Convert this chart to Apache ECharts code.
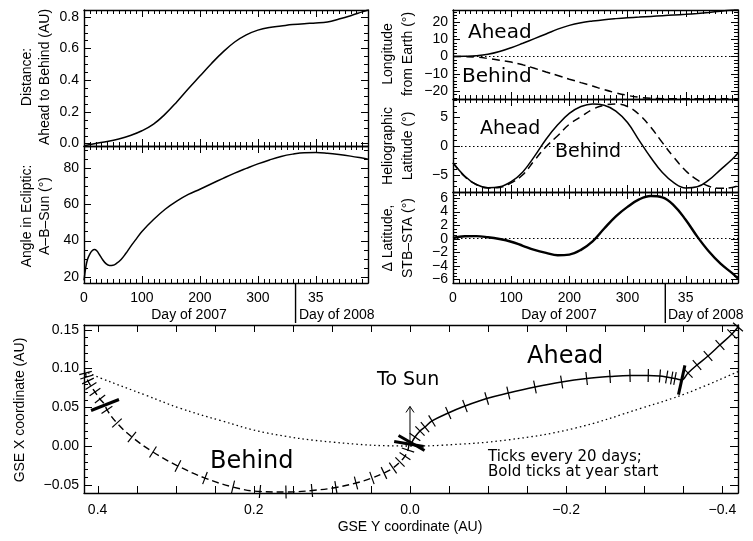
<!DOCTYPE html>
<html>
<head>
<meta charset="utf-8">
<script src="https://cdn.jsdelivr.net/npm/echarts@6/dist/echarts.min.js"></script>
<style>
  html, body { margin: 0; padding: 0; background: #fff; }
  #main { width: 753px; height: 541px; }
</style>
</head>
<body>
<div id="main"></div>
<script>
// ---- data ----
// day count from 1 Jan 2007 (365 = 1 Jan 2008)
const days = [0, 20, 40, 60, 80, 100, 120, 140, 160, 180, 200, 220, 240, 260, 280, 300, 320, 340, 360, 380, 400, 420, 440, 460, 480, 490];

// separation Ahead-Behind (AU)
const distance = [-0.014, 0.000, 0.012, 0.028, 0.050, 0.080, 0.122, 0.185, 0.262, 0.345, 0.425, 0.505, 0.578, 0.640, 0.685, 0.715, 0.732, 0.741, 0.750, 0.756, 0.760, 0.767, 0.785, 0.806, 0.830, 0.842];

// angle A-B-Sun in ecliptic (deg), denser at the start
const angleDays = [0, 3, 6, 10, 14, 18, 22, 27, 32, 38, 44, 50, 56, 64, 72, 80, 90, 100, 120, 140, 160, 180, 200, 220, 240, 260, 280, 300, 320, 340, 360, 380, 400, 420, 440, 460, 480, 490];
const angle = [18, 25, 29.5, 32.5, 34.3, 35, 34.3, 32, 29.5, 27.2, 26.2, 26.3, 27.3, 29.5, 32.8, 36.5, 40.8, 45, 51.6, 57.3, 61.8, 65.5, 68.4, 71.4, 74.4, 77.3, 79.9, 82.4, 84.6, 86.5, 87.8, 88.6, 88.7, 88.3, 87.6, 86.7, 85.6, 85];

// longitude from Earth (deg)
const lonAhead = [0, 0.1, 0.4, 1.2, 2.8, 5.0, 7.6, 10.3, 13.0, 15.8, 18.0, 19.5, 20.5, 21.3, 21.9, 22.4, 22.8, 23.2, 23.6, 24.0, 24.4, 24.9, 25.5, 26.2, 26.9, 27.3];
const lonBehind = [0, -0.1, -0.4, -1.2, -2.2, -3.3, -4.9, -6.9, -9.0, -11.1, -13.2, -15.2, -17.2, -19.3, -21.1, -22.6, -23.7, -24.3, -24.5, -24.6, -24.6, -24.6, -24.6, -24.6, -24.6, -24.6];

// heliographic latitude (deg)
const latAhead = [-2.9, -5.2, -6.7, -7.25, -7.1, -6.2, -4.5, -1.8, 1.2, 3.7, 5.7, 6.9, 7.35, 7.1, 6.1, 4.1, 1.0, -2.0, -4.6, -6.4, -7.3, -7.1, -5.9, -4.1, -2.3, -1.2];
const latBehind = [-2.9, -5.3, -6.7, -7.3, -7.2, -6.4, -5.0, -2.5, -0.1, 1.8, 3.8, 5.1, 6.4, 7.1, 7.35, 6.9, 5.5, 3.3, 0.6, -2.0, -4.3, -5.9, -7.0, -7.35, -7.2, -6.9];

// latitude difference STB-STA (deg)
const dLat = [0.1, 0.35, 0.38, 0.22, -0.05, -0.45, -1.05, -1.65, -2.1, -2.45, -2.35, -1.65, -0.4, 1.5, 3.3, 4.7, 5.8, 6.3, 6.1, 4.9, 2.8, 0.3, -1.9, -3.7, -5.1, -5.9];

// GSE track, one point per 20 days plus the year start
const orbitDays = [0, 20, 40, 60, 80, 100, 120, 140, 160, 180, 200, 220, 240, 260, 280, 300, 320, 340, 360, 365, 380, 400, 420, 440, 460, 480];
const aheadGseY = [-0.002, -0.0064, -0.0128, -0.0192, -0.0282, -0.049, -0.0704, -0.0982, -0.1259, -0.160, -0.1942, -0.2262, -0.2561, -0.2817, -0.3051, -0.320, -0.3287, -0.3351, -0.3393, -0.3479, -0.356, -0.3675, -0.3816, -0.3969, -0.4123, -0.420];
const aheadGseX = [0.0039, 0.0116, 0.0194, 0.0245, 0.0323, 0.0426, 0.0516, 0.0613, 0.0684, 0.0761, 0.0826, 0.0871, 0.0897, 0.0910, 0.0910, 0.0903, 0.0890, 0.0877, 0.0871, 0.0852, 0.0942, 0.1045, 0.1161, 0.1303, 0.1445, 0.1535];
const behindGseY = [0.0013, 0.0026, 0.0064, 0.0128, 0.0218, 0.0333, 0.0487, 0.0691, 0.0948, 0.1255, 0.1588, 0.1921, 0.2266, 0.2625, 0.2971, 0.3291, 0.3560, 0.3752, 0.3880, 0.3905, 0.3969, 0.4033, 0.4085, 0.4123, 0.4142, 0.4155];
const behindGseX = [0.0026, -0.0052, -0.0129, -0.0206, -0.0284, -0.0348, -0.0413, -0.0477, -0.0535, -0.0574, -0.0594, -0.0587, -0.0529, -0.0413, -0.0258, -0.0077, 0.0116, 0.0297, 0.0465, 0.0529, 0.0606, 0.0697, 0.0774, 0.0839, 0.0890, 0.0942];

// dotted reference curve
const earthGseY = [0.4174, 0.397, 0.337, 0.295, 0.243, 0.184, 0.099, 0.0, -0.041, -0.126, -0.211, -0.297, -0.354, -0.42];
const earthGseX = [0.097, 0.088, 0.065, 0.049, 0.033, 0.017, 0.005, 0.0, 0.001, 0.008, 0.023, 0.049, 0.068, 0.096];

// "To Sun" arrow: from, to (GSE Y, GSE X)
const sunArrow = [[0, 0.004, 0, 0.051]];
// year boundary marker under the day axes
const yearStart = 365;

// ---- helpers ----
const AXIS_FONT = 'Liberation Sans';
const NOTE_FONT = 'DejaVu Sans';

const zip = (xs, ys) => xs.map((x, i) => [x, ys[i]]);
const minus = s => s.replace('-', '\u2212');
const isMultiple = (v, step) => Math.abs(v / step - Math.round(v / step)) < 1e-6;

function labelFmt(step, fn) {
  return v => (isMultiple(v, step) ? fn(Math.abs(v) < 1e-9 ? 0 : v) : '');
}

// axes give the frame and labels; the inward IDL-style ticks are added below
function axis(gi, pos, s, showLabel) {
  return {
    type: 'value', gridIndex: gi, position: pos,
    min: s.min, max: s.max, inverse: !!s.inverse,
    minInterval: s.step, maxInterval: s.step,
    axisLine: { show: true, onZero: false, lineStyle: { color: '#000', width: 1.4 } },
    axisTick: { show: false },
    minorTick: { show: false },
    splitLine: { show: false },
    minorSplitLine: { show: false },
    axisLabel: {
      show: showLabel, color: '#000', fontFamily: AXIS_FONT, fontSize: 14,
      margin: s.margin || 5, formatter: labelFmt(s.labelStep || s.step, s.fmt)
    }
  };
}

const grids = [
  { left: 84, top: 10, width: 284, height: 136 },
  { left: 84, top: 146, width: 284, height: 137 },
  { left: 453, top: 10, width: 285, height: 89 },
  { left: 453, top: 99, width: 285, height: 93 },
  { left: 453, top: 192, width: 285, height: 91 },
  { left: 84, top: 325, width: 654, height: 168 }
];

const daySpec = { min: 0, max: 490, step: 100, minor: 10, margin: 8,
  fmt: v => String(v >= 365 ? v - 365 : v) };
const gseYSpec = { min: -0.42, max: 0.4174, step: 0.05, labelStep: 0.2, inverse: true, margin: 10,
  fmt: v => minus(v.toFixed(1)) };

const ySpecs = [
  { min: -0.016, max: 0.842, step: 0.2, minor: 4, fmt: v => v.toFixed(1) },
  { min: 16.5, max: 92.3, step: 20, minor: 4, fmt: v => String(v) },
  { min: -24.7, max: 26.9, step: 10, minor: 5, fmt: v => minus(String(v)) },
  { min: -8, max: 8.2, step: 5, minor: 5, fmt: v => minus(String(v)) },
  { min: -6.55, max: 6.9, step: 2, minor: 4, fmt: v => minus(String(v)) },
  { min: -0.0606, max: 0.1561, step: 0.05, minor: 5, tick: 8, fmt: v => minus(v.toFixed(2)) }
];
const xLabelOn = [false, true, false, false, true, true];

const xAxes = [], yAxes = [];
grids.forEach((g, gi) => {
  const xs = gi === 5 ? gseYSpec : daySpec;
  xAxes.push(axis(gi, 'bottom', xs, xLabelOn[gi]));
  xAxes.push(axis(gi, 'top', xs, false));
  yAxes.push(axis(gi, 'left', ySpecs[gi], true));
  yAxes.push(axis(gi, 'right', ySpecs[gi], false));
});

function tickValues(min, max, step) {
  const out = [];
  const k0 = Math.ceil(min / step - 1e-9), k1 = Math.floor(max / step + 1e-9);
  for (let k = k0; k <= k1; k++) out.push(+(k * step).toFixed(10));
  return out;
}
// [value, length] for every major and minor tick of an axis spec
function tickList(s) {
  const out = tickValues(s.min, s.max, s.step).map(v => [v, s.tick || 7]);
  if (s.minor) {
    tickValues(s.min, s.max, s.step / s.minor).forEach(v => {
      if (!isMultiple(v, s.step)) out.push([v, 4]);
    });
  }
  return out;
}

function line(gi, data, width, dash) {
  return {
    type: 'line', xAxisIndex: 2 * gi, yAxisIndex: 2 * gi, data: data,
    showSymbol: false, symbol: 'none', smooth: 0.4, clip: true,
    lineStyle: { color: '#000', width: width, type: dash || 'solid' }
  };
}
const zeroLine = {
  silent: true, symbol: 'none', label: { show: false },
  lineStyle: { color: '#000', width: 1.2, type: [1.5, 2.5] },
  data: [{ yAxis: 0 }]
};

// perpendicular tick marks along the GSE tracks
function tickData(xs, ys, ds) {
  return ds.map((d, i) => {
    const bold = d % 365 === 0;
    let a = i > 0 ? i - 1 : i;
    let b = i < ds.length - 1 ? i + 1 : i;
    if (bold && d > 0) b = i;
    if (bold && d === 0) a = i;
    return [xs[i], ys[i], xs[a], ys[a], xs[b], ys[b], bold ? 1 : 0];
  });
}
function renderTick(params, api) {
  const p = api.coord([api.value(0), api.value(1)]);
  const a = api.coord([api.value(2), api.value(3)]);
  const b = api.coord([api.value(4), api.value(5)]);
  const bold = api.value(6) === 1;
  const dx = b[0] - a[0], dy = b[1] - a[1];
  const len = Math.hypot(dx, dy) || 1;
  const h = bold ? 15 : 6.5;
  const nx = -dy / len * h, ny = dx / len * h;
  return {
    type: 'line',
    shape: { x1: p[0] - nx, y1: p[1] - ny, x2: p[0] + nx, y2: p[1] + ny },
    style: { stroke: '#000', lineWidth: bold ? 3 : 1.2 }
  };
}
function renderArrow(params, api) {
  const a = api.coord([api.value(0), api.value(1)]);
  const b = api.coord([api.value(2), api.value(3)]);
  return {
    type: 'group',
    children: [
      { type: 'line', shape: { x1: a[0], y1: a[1], x2: b[0], y2: b[1] }, style: { stroke: '#000', lineWidth: 1 } },
      { type: 'polyline', shape: { points: [[b[0] - 4, b[1] + 6], [b[0], b[1]], [b[0] + 4, b[1] + 6]] },
        style: { stroke: '#000', fill: null, lineWidth: 1 } }
    ]
  };
}
// vertical year separator hanging below a panel's day axis
function renderYearLine(params, api) {
  const p = api.coord([api.value(0), api.value(1)]);
  return {
    type: 'line', shape: { x1: p[0], y1: p[1], x2: p[0], y2: p[1] + 40 },
    style: { stroke: '#000', lineWidth: 1.4 }
  };
}

const series = [
  line(0, zip(days, distance), 1.5),
  line(1, zip(angleDays, angle), 1.5),
  Object.assign(line(2, zip(days, lonAhead), 1.5), { markLine: zeroLine }),
  line(2, zip(days, lonBehind), 1.5, [8, 5]),
  Object.assign(line(3, zip(days, latAhead), 1.5), { markLine: zeroLine }),
  line(3, zip(days, latBehind), 1.5, [8, 5]),
  Object.assign(line(4, zip(days, dLat), 2.4), { markLine: zeroLine }),
  line(5, zip(earthGseY, earthGseX), 1.3, [1.5, 3]),
  line(5, zip(aheadGseY, aheadGseX), 1.5),
  line(5, zip(behindGseY, behindGseX), 1.4, [7, 4]),
  { type: 'custom', xAxisIndex: 10, yAxisIndex: 10, renderItem: renderTick,
    data: tickData(aheadGseY, aheadGseX, orbitDays) },
  { type: 'custom', xAxisIndex: 10, yAxisIndex: 10, renderItem: renderTick,
    data: tickData(behindGseY, behindGseX, orbitDays) },
  { type: 'custom', xAxisIndex: 10, yAxisIndex: 10, renderItem: renderArrow, data: sunArrow },
  { type: 'custom', xAxisIndex: 2, yAxisIndex: 2, renderItem: renderYearLine, data: [[yearStart, ySpecs[1].min]] },
  { type: 'custom', xAxisIndex: 8, yAxisIndex: 8, renderItem: renderYearLine, data: [[yearStart, ySpecs[4].min]] }
];

// ---- text ----
function txt(x, y, s, size, font, align, rot) {
  return {
    type: 'text', x: x, y: y, rotation: rot || 0, silent: true,
    style: { text: s, x: 0, y: 0, fill: '#000', fontSize: size, fontFamily: font,
      align: align || 'center', verticalAlign: 'middle' }
  };
}
const R = Math.PI / 2;
const graphics = [
  txt(27, 77, 'Distance:', 14, AXIS_FONT, 'center', R),
  txt(45, 77, 'Ahead to Behind (AU)', 14, AXIS_FONT, 'center', R),
  txt(27, 216, 'Angle in Ecliptic:', 14, AXIS_FONT, 'center', R),
  txt(45, 216, 'A\u2013B\u2013Sun (\u00b0)', 14, AXIS_FONT, 'center', R),
  txt(388, 54, 'Longitude', 14, AXIS_FONT, 'center', R),
  txt(408, 54, 'from Earth (\u00b0)', 14, AXIS_FONT, 'center', R),
  txt(388, 146, 'Heliographic', 14, AXIS_FONT, 'center', R),
  txt(408, 146, 'Latitude (\u00b0)', 14, AXIS_FONT, 'center', R),
  txt(388, 238, '\u0394 Latitude,', 14, AXIS_FONT, 'center', R),
  txt(408, 238, 'STB\u2013STA (\u00b0)', 14, AXIS_FONT, 'center', R),
  txt(20, 410, 'GSE X coordinate (AU)', 14, AXIS_FONT, 'center', R),
  txt(410, 527, 'GSE Y coordinate (AU)', 14, AXIS_FONT),
  txt(189, 315, 'Day of 2007', 14, AXIS_FONT),
  txt(299, 315, 'Day of 2008', 14, AXIS_FONT, 'left'),
  txt(559, 315, 'Day of 2007', 14, AXIS_FONT),
  txt(668, 315, 'Day of 2008', 14, AXIS_FONT, 'left'),
  txt(468, 33, 'Ahead', 20, NOTE_FONT, 'left'),
  txt(462, 77, 'Behind', 20, NOTE_FONT, 'left'),
  txt(480, 129, 'Ahead', 19, NOTE_FONT, 'left'),
  txt(555, 152, 'Behind', 19, NOTE_FONT, 'left'),
  txt(527, 357, 'Ahead', 24, NOTE_FONT, 'left'),
  txt(210, 462, 'Behind', 24, NOTE_FONT, 'left'),
  txt(377, 380, 'To Sun', 19, NOTE_FONT, 'left'),
  txt(488, 457, 'Ticks every 20 days;', 15, NOTE_FONT, 'left'),
  txt(488, 472, 'Bold ticks at year start', 15, NOTE_FONT, 'left')
];

const chart = echarts.init(document.getElementById('main'));
chart.setOption({
  animation: false,
  grid: grids,
  xAxis: xAxes,
  yAxis: yAxes,
  series: series
});

// inward ticks on all four sides, placed through each axis' own scale
const seg = (x1, y1, x2, y2) => ({ type: 'line', silent: true, shape: { x1, y1, x2, y2 },
  style: { stroke: '#000', lineWidth: 1 } });
const frameTicks = [];
grids.forEach((g, gi) => {
  const xs = gi === 5 ? gseYSpec : daySpec;
  const L = g.left, T = g.top, Rt = g.left + g.width, B = g.top + g.height;
  tickList(xs).forEach(([v, len]) => {
    const x = Math.round(chart.convertToPixel({ xAxisIndex: 2 * gi }, v)) + 0.5;
    frameTicks.push(seg(x, B, x, B - len), seg(x, T, x, T + len));
  });
  tickList(ySpecs[gi]).forEach(([v, len]) => {
    const y = Math.round(chart.convertToPixel({ yAxisIndex: 2 * gi }, v)) + 0.5;
    frameTicks.push(seg(L, y, L + len, y), seg(Rt, y, Rt - len, y));
  });
});
chart.setOption({ graphic: graphics.concat(frameTicks) });
</script>
</body>
</html>
